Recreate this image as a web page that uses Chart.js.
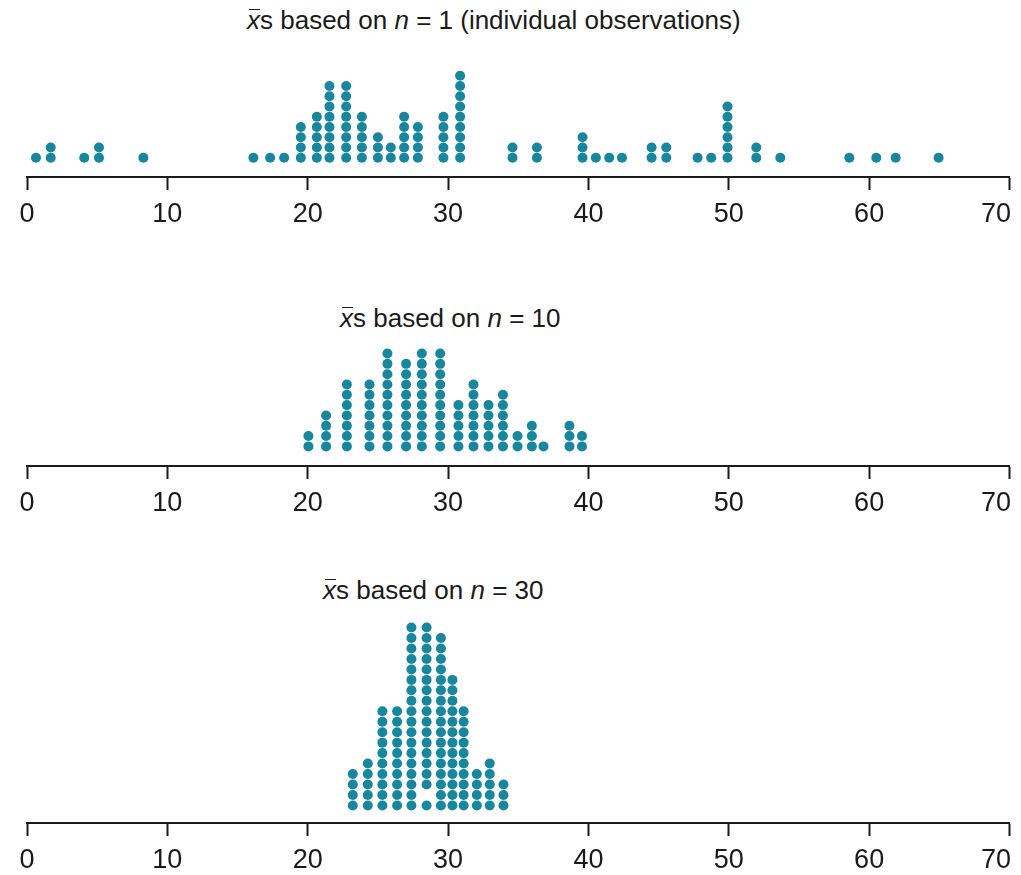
<!DOCTYPE html>
<html><head><meta charset="utf-8">
<script src="https://cdn.jsdelivr.net/npm/chart.js@4/dist/chart.umd.min.js"></script>
<style>
html,body{margin:0;padding:0;background:#fff;width:1021px;height:875px;overflow:hidden;position:relative;font-family:"Liberation Sans",Arial,sans-serif;}
.title{position:absolute;font-size:26px;line-height:30px;color:#1a1a1a;white-space:nowrap;}
.xbar{font-style:italic;position:relative;}
.xbar::before{content:'';position:absolute;left:2px;right:0px;top:4px;border-top:1.6px solid #1a1a1a;}
.panel{position:absolute;left:0;width:1046px;}
</style></head><body>
<div class="title" style="left:247px;top:5px;"><span class="xbar">x</span>s based on <i>n</i> = 1 (individual observations)</div>
<div class="title" style="left:340px;top:303px;"><span class="xbar">x</span>s based on <i>n</i> = 10</div>
<div class="title" style="left:323px;top:575px;"><span class="xbar">x</span>s based on <i>n</i> = 30</div>
<div class="panel" style="top:57px;height:172px"><canvas id="c1"></canvas></div>
<div class="panel" style="top:326px;height:192px"><canvas id="c2"></canvas></div>
<div class="panel" style="top:598px;height:277px"><canvas id="c3"></canvas></div>
<script>
// ---- data ----
const tickValues = [0, 10, 20, 30, 40, 50, 60, 70];

// n = 1 (individual observations): dot column positions and counts
const n1Values = [0.64, 1.69, 4.08, 5.13, 8.29, 16.13, 17.32, 18.32, 19.51, 20.65, 21.55, 22.74, 23.86, 25.0, 25.92, 26.87, 27.85, 29.67, 30.86, 34.59, 36.33, 39.58, 40.53, 41.48, 42.39, 44.5, 45.55, 47.78, 48.75, 49.91, 51.96, 53.67, 58.59, 60.51, 61.89, 64.95];
const n1Counts = [1, 2, 1, 2, 1, 1, 1, 1, 4, 5, 8, 8, 5, 3, 2, 5, 4, 5, 9, 2, 2, 3, 1, 1, 1, 2, 2, 1, 1, 6, 2, 1, 1, 1, 1, 1];

// n = 10
const n10Values = [20.05, 21.31, 22.79, 24.4, 25.68, 27.01, 28.13, 29.44, 30.74, 31.81, 32.88, 33.91, 34.95, 35.97, 36.8, 38.65, 39.54];
const n10Counts = [2, 4, 7, 7, 10, 9, 10, 10, 5, 7, 5, 6, 2, 3, 1, 3, 2];

// n = 30
const n30Values = [23.21, 24.28, 25.32, 26.37, 27.39, 28.47, 29.49, 30.31, 31.11, 32.05, 32.97, 33.95];
const n30Counts = [4, 5, 10, 10, 18, 18, 17, 13, 10, 4, 5, 3];
// [value, row] positions left blank in the original figure
const n30Blank = [[28.47, 2]];

// ---- drawing ----
const DOT = 'rgb(24,134,156)';
const ROW_PX = 10.7;
const AXIS_H = 52;

function stackPoints(values, counts, blanks) {
  const pts = [];
  values.forEach((v, i) => {
    for (let r = 1; r <= counts[i]; r++) {
      if (blanks && blanks.some(b => b[0] === v && b[1] === r)) continue;
      pts.push({x: v, y: r});
    }
  });
  return pts;
}

function makeChart(id, pts, yMin, areaH) {
  const yMax = yMin + areaH / ROW_PX;
  new Chart(document.getElementById(id), {
    type: 'scatter',
    data: {datasets: [{data: pts, backgroundColor: DOT, borderWidth: 0, pointRadius: 5, pointHoverRadius: 5, clip: false}]},
    options: {
      responsive: true, maintainAspectRatio: false, animation: false,
      layout: {padding: {left: 27, right: 31, top: 0, bottom: 0}},
      plugins: {legend: {display: false}, tooltip: {enabled: false}},
      events: [],
      scales: {
        x: {
          type: 'linear', min: 0, max: 70,
          afterBuildTicks: s => { s.ticks = tickValues.map(v => ({value: v})); },
          afterFit: s => { s.height = AXIS_H; },
          grid: {display: true, drawOnChartArea: false, drawTicks: true, tickLength: 13, tickWidth: 2, tickColor: '#1a1a1a'},
          border: {display: true, color: '#1a1a1a', width: 2},
          ticks: {
            color: '#1a1a1a', font: {family: '"Liberation Sans", Arial, sans-serif', size: 27}, padding: 8, maxRotation: 0, autoSkip: false,
            callback: v => v === 70 ? '70\u2002\u2002' : String(v)
          }
        },
        y: {display: false, min: yMin, max: yMax}
      }
    }
  });
}

makeChart('c1', stackPoints(n1Values, n1Counts), -0.87, 120);
makeChart('c2', stackPoints(n10Values, n10Counts), -0.9, 140);
makeChart('c3', stackPoints(n30Values, n30Counts, n30Blank), -0.68, 225);
</script>
</body></html>
